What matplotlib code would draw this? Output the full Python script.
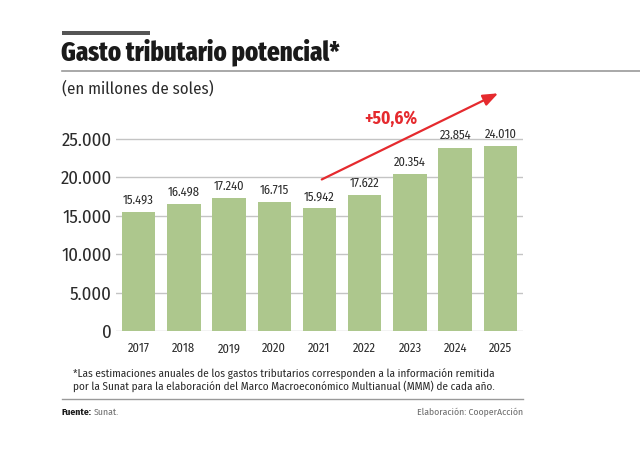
import matplotlib
matplotlib.use("Agg")
import matplotlib.pyplot as plt
from matplotlib.lines import Line2D
from matplotlib.patches import Rectangle

years = ["2017", "2018", "2019", "2020", "2021", "2022", "2023", "2024", "2025"]
values = [15493, 16498, 17240, 16715, 15942, 17622, 20354, 23854, 24010]
yticks = [0, 5000, 10000, 15000, 20000, 25000]
ytick_labels = ["0", "5.000", "10.000", "15.000", "20.000", "25.000"]

BAR = "#adc78d"
RED = "#e52a2e"
DARK = "#2b2b2b"
GREY = "#6e6e6e"
BODY = ["Fira Sans Condensed", "DejaVu Sans"]
TITLE = ["Fira Sans Extra Condensed", "DejaVu Sans"]
plt.rcParams["font.family"] = BODY

W, H = 640, 451
fig = plt.figure(figsize=(W / 100, H / 100), dpi=100)
fig.patch.set_facecolor("white")

def fx(px):
    return px / W

def fy(py):
    return 1 - py / H

# header
fig.add_artist(Rectangle((fx(62), fy(35)), fx(150) - fx(62), 4 / H,
                         transform=fig.transFigure, color="#555555", lw=0))
fig.text(fx(61), fy(52), "Gasto tributario potencial*", fontsize=19.3,
         fontweight="heavy", family=TITLE,
         color="#1a1a1a", va="center", ha="left")
fig.add_artist(Line2D([fx(62), 1.0], [fy(70.5), fy(70.5)], transform=fig.transFigure,
                      color="#9a9a9a", lw=1.2))
fig.text(fx(62), fy(89), "(en millones de soles)", fontsize=12, color=DARK,
         va="center", ha="left")

# axes
ax_left, ax_right = 116, 523
ax_bottom_px = 331
ymax = 28000
px_per_unit = (331 - 138.7) / 25000
ax_top_px = ax_bottom_px - ymax * px_per_unit
ax = fig.add_axes([fx(ax_left), fy(ax_bottom_px), fx(ax_right) - fx(ax_left),
                   (ax_bottom_px - ax_top_px) / H])
x = list(range(len(years)))
ax.bar(x, values, width=0.74, color=BAR, zorder=3)
ax.set_xlim(-0.5, len(years) - 0.5)
ax.set_ylim(0, ymax)
ax.set_yticks(yticks)
ax.set_yticklabels(ytick_labels)
ax.set_xticks(x)
ax.set_xticklabels(years)
for s in ax.spines.values():
    s.set_visible(False)
ax.tick_params(axis="y", length=0, pad=3, labelsize=13.5, labelcolor=DARK)
ax.tick_params(axis="x", length=0, pad=9, labelsize=9, labelcolor=DARK)
for lbl in ax.get_xticklabels():
    lbl.set_verticalalignment("baseline")
    lbl.set_y(-0.04)
for t in yticks:
    ax.axhline(t, color="#c4c4c4", lw=1.0, zorder=1)
for xi, v in zip(x, values):
    ax.annotate(f"{v:,}".replace(",", "."), (xi, v), xytext=(0, 4),
                textcoords="offset points", ha="center", va="bottom",
                fontsize=9, color=DARK)

# arrow
ax.annotate("", xy=(7.95, 30900), xytext=(4.05, 19700), xycoords="data",
            textcoords="data", annotation_clip=False,
            arrowprops=dict(arrowstyle="-|>,head_length=0.9,head_width=0.35",
                            color=RED, lw=1.6, shrinkA=0, shrinkB=0))
fig.text(fx(391), fy(119), "+50,6%", fontsize=12.5, fontweight="bold",
         color=RED, ha="center", va="center")

# footnote
fig.text(fx(73), fy(374), "*Las estimaciones anuales de los gastos tributarios corresponden a la información remitida",
         fontsize=8.05, color=DARK, ha="left", va="center")
fig.text(fx(73), fy(386), "por la Sunat para la elaboración del Marco Macroeconómico Multianual (MMM) de cada año.",
         fontsize=8.05, color=DARK, ha="left", va="center")
fig.add_artist(Line2D([fx(62), fx(523)], [fy(399), fy(399)], transform=fig.transFigure,
                      color="#9a9a9a", lw=1.0))
src = fig.text(fx(62), fy(412), "Fuente:", fontsize=7, fontweight="bold",
               color="#1a1a1a", ha="left", va="center")
renderer = fig.canvas.get_renderer()
bb = src.get_window_extent(renderer=renderer)
fig.text((bb.x1 + 2) / W, fy(412), "Sunat.", fontsize=7, color=GREY,
         ha="left", va="center")
fig.text(fx(523), fy(412), "Elaboración: CooperAcción", fontsize=7, color=GREY,
         ha="right", va="center")

fig.savefig("out.png", dpi=100, facecolor="white")
